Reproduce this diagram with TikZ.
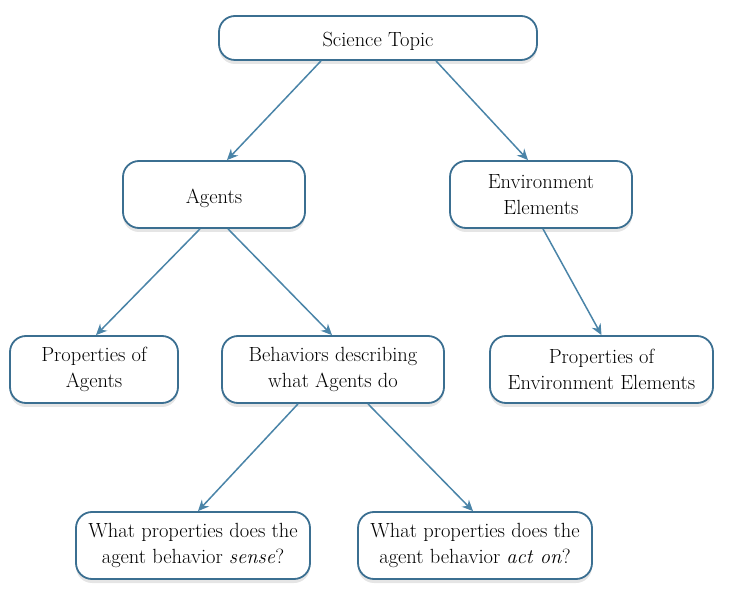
\documentclass[tikz,border=0pt]{standalone}
\usetikzlibrary{arrows.meta,shadows}
\definecolor{boxline}{HTML}{3B6F91}
\definecolor{arrowc}{HTML}{4A84A8}
\begin{document}
\begin{tikzpicture}[x=1pt,y=-1pt,
  box/.style={draw=boxline, line width=1.8pt, rounded corners=16pt, fill=white,
    align=center, inner sep=0pt,
    font=\fontsize{20.5}{26}\selectfont,
    execute at begin node={\rule{0pt}{22pt}},
    drop shadow={shadow xshift=0pt, shadow yshift=-4pt, opacity=0.10, fill=black}},
  conn/.style={draw=arrowc, line width=1.5pt, -{Stealth[length=11pt,width=10pt]}}]
\useasboundingbox (0,0) rectangle (731,601);
\node[box, minimum width=318pt, minimum height=44pt] (top) at (378,38) {Science Topic};
\node[box, minimum width=182pt, minimum height=67pt] (agents) at (214,194.5) {Agents};
\node[box, minimum width=182pt, minimum height=67pt] (env) at (541,194.5) {Environment\\Elements};
\node[box, minimum width=168pt, minimum height=67pt] (pa) at (94,369.5) {Properties of\\Agents};
\node[box, minimum width=222pt, minimum height=67pt] (beh) at (333,369.5) {Behaviors describing\\what Agents do};
\node[box, minimum width=223pt, minimum height=67pt] (pe) at (601.5,369.5) {Properties of\\Environment Elements};
\node[box, minimum width=234pt, minimum height=67pt] (sense) at (193,545.5) {What properties does the\\agent behavior \textit{sense}?};
\node[box, minimum width=234pt, minimum height=67pt] (act) at (475,545.5) {What properties does the\\agent behavior \textit{act on}?};
\draw[conn] ([xshift=-57pt]top.south) -- ([xshift=13pt]agents.north);
\draw[conn] ([xshift=58pt]top.south) -- ([xshift=-13pt]env.north);
\draw[conn] ([xshift=-14pt]agents.south) -- ([xshift=2pt]pa.north);
\draw[conn] ([xshift=14pt]agents.south) -- ([xshift=-1pt]beh.north);
\draw[conn] ([xshift=2pt]env.south) -- (pe.north);
\draw[conn] ([xshift=-35pt]beh.south) -- ([xshift=5pt]sense.north);
\draw[conn] ([xshift=35pt]beh.south) -- ([xshift=-2pt]act.north);
\end{tikzpicture}
\end{document}
